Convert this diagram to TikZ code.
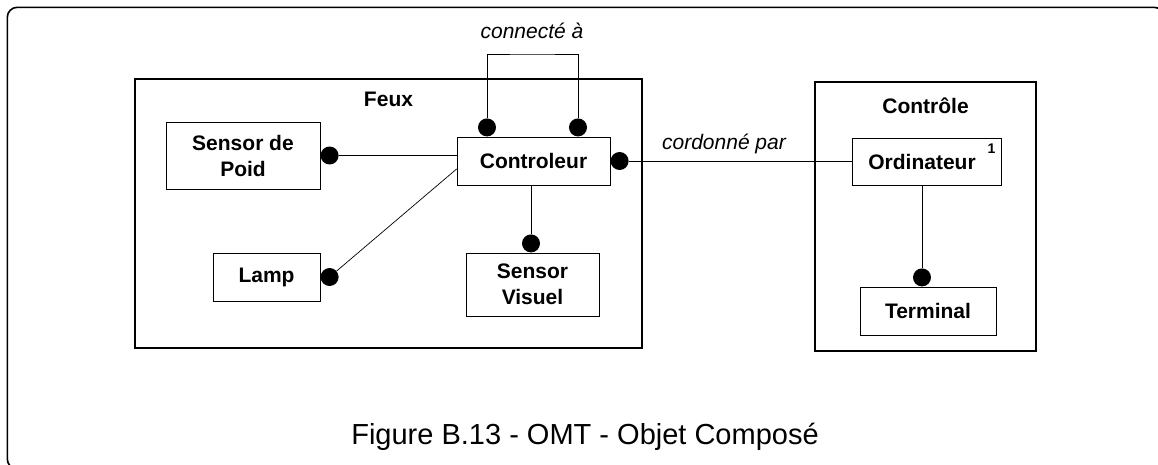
\documentclass[tikz,border=0pt]{standalone}
\usepackage{fontspec}
\setmainfont{Liberation Sans}
\usepackage{tikz}
\usetikzlibrary{calc, positioning}
\tikzset
{
  objbox/.style={draw, line width=0.8pt, inner sep=0pt, align=center, font=\bfseries\fontsize{21}{26}\selectfont},
  groupbox/.style={draw, line width=1.2pt, inner sep=0pt},
  grouptitle/.style={font=\bfseries\fontsize{21}{26}\selectfont},
  rolelabel/.style={font=\itshape\fontsize{21}{26}\selectfont},
  blob/.style={circle, fill=black, inner sep=0pt, minimum size=18pt},
  link/.style={draw, line width=0.7pt}
}

\begin{document}
\begin{tikzpicture}[x=1pt, y=-1pt]

    % Page and outer frame
    \useasboundingbox (0,0) rectangle (1158,464);
    \draw[line width=1.6pt, rounded corners=10pt] (7.3,7.3) rectangle (1164,469);

    % Draw the two groups
    \node[groupbox, minimum width=507, minimum height=269] (feux) at (388.5,213.5) {};
    \node[grouptitle] (tfeux) at ([yshift=-21]feux.north) {Feux};
    \node[groupbox, minimum width=221, minimum height=269] (controle) at (925.5,216.5) {};
    \node[grouptitle] (tcontrole) at ([yshift=-24]controle.north) {Contrôle};

    % Draw the objects of Feux
    \node[objbox, minimum width=154, minimum height=67] (poid) at (243,155.5) {Sensor de\\Poid};
    \node[objbox, minimum width=107, minimum height=48] (lamp) at (266.5,277) {Lamp};
    \node[objbox, minimum width=153, minimum height=48] (ctrl) at (533.5,161) {Controleur};
    \node[objbox, minimum width=133, minimum height=63] (visuel) at (532.5,284.5) {Sensor\\Visuel};

    % Draw the objects of Contrôle
    \node[objbox, minimum width=149, minimum height=47] (ordi) at (926.5,161.5) {Ordinateur\kern9pt};
    \node[font=\bfseries\fontsize{14}{16}\selectfont] (mult) at ([xshift=-10,yshift=-11]ordi.north east) {1};
    \node[objbox, minimum width=136, minimum height=48] (term) at (928,311) {Terminal};

    % Draw the blobs at the ends of the links
    \node[blob, anchor=south] (dloopa) at ([xshift=-46.5]ctrl.north) {};
    \node[blob, anchor=south] (dloopb) at ([xshift=44.5]ctrl.north) {};
    \node[blob, anchor=west] (dpoid) at (poid.east) {};
    \node[blob, anchor=west] (dlamp) at (lamp.east) {};
    \node[blob, anchor=west] (dctrl) at (ctrl.east) {};
    \node[blob, anchor=south] (dvisuel) at ([xshift=-1.5]visuel.north) {};
    \node[blob, anchor=south] (dterm) at ([xshift=-6]term.north) {};

    % Draw the links
    \coordinate (looptop) at (532,54);
    \draw[link] (dloopa) |- (looptop) -| (dloopb);
    \node[rolelabel] (lconn) at (532,31) {connecté à};
    \draw[link] (dpoid) -- (dpoid -| ctrl.west);
    \draw[link] (dlamp) -- ([yshift=-8]ctrl.west);
    \draw[link] (ctrl.south -| dvisuel) -- (dvisuel);
    \draw[link] (dctrl) -- (dctrl -| ordi.west);
    \node[rolelabel] (lcord) at (724,144) {cordonné par};
    \draw[link] (ordi.south -| dterm) -- (dterm);

    % Caption
    \node[font=\fontsize{29}{34}\selectfont] (caption) at (585,437) {Figure B.13 - OMT - Objet Composé};

\end{tikzpicture}
\end{document}
